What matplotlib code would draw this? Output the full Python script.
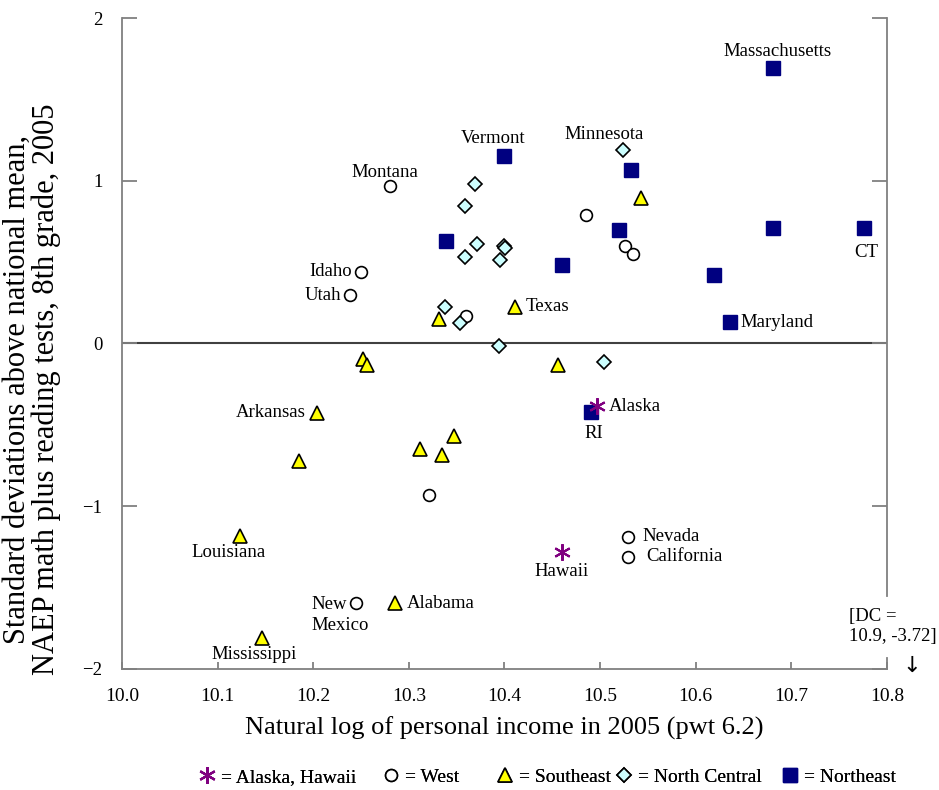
import matplotlib
matplotlib.use("Agg")
import matplotlib.pyplot as plt
from matplotlib.lines import Line2D

plt.rcParams['font.family'] = ['Liberation Serif', 'DejaVu Serif']
plt.rcParams['axes.unicode_minus'] = True

# Northeast
ne_x = [10.681, 10.399, 10.532, 10.339, 10.520, 10.681, 10.460, 10.619, 10.636, 10.776, 10.490]
ne_y = [1.69, 1.15, 1.063, 0.627, 0.70, 0.707, 0.485, 0.418, 0.129, 0.707, -0.424]
# West
we_x = [10.280, 10.250, 10.238, 10.485, 10.526, 10.534, 10.360, 10.321, 10.245, 10.529, 10.529]
we_y = [0.965, 0.442, 0.295, 0.787, 0.597, 0.547, 0.172, -0.928, -1.597, -1.186, -1.309]
# Southeast
se_x = [10.543, 10.411, 10.332, 10.456, 10.2525, 10.256, 10.204, 10.185, 10.123,
        10.146, 10.286, 10.312, 10.335, 10.347]
se_y = [0.893, 0.227, 0.152, -0.135, -0.098, -0.131, -0.426, -0.725, -1.18,
        -1.808, -1.596, -0.651, -0.688, -0.571]
# North Central
nc_x = [10.524, 10.369, 10.359, 10.371, 10.359, 10.399, 10.401, 10.395, 10.338, 10.354, 10.394, 10.504]
nc_y = [1.192, 0.981, 0.842, 0.613, 0.53, 0.598, 0.585, 0.516, 0.223, 0.125, -0.016, -0.115]
# Alaska, Hawaii
ak_x = [10.497, 10.460]
ak_y = [-0.387, -1.282]

# state labels: text, x, y, ha, va
labels = [
    ("Massachusetts", 10.686, 1.74, "center", "bottom"),
    ("Vermont", 10.388, 1.21, "center", "bottom"),
    ("Minnesota", 10.504, 1.23, "center", "bottom"),
    ("Montana", 10.275, 1.00, "center", "bottom"),
    ("Idaho", 10.241, 0.442, "right", "center"),
    ("Utah", 10.229, 0.295, "right", "center"),
    ("Texas", 10.422, 0.227, "left", "center"),
    ("Maryland", 10.647, 0.129, "left", "center"),
    ("CT", 10.778, 0.61, "center", "top"),
    ("Arkansas", 10.192, -0.426, "right", "center"),
    ("Alaska", 10.509, -0.387, "left", "center"),
    ("RI", 10.493, -0.50, "center", "top"),
    ("Nevada", 10.544, -1.186, "left", "center"),
    ("California", 10.548, -1.309, "left", "center"),
    ("Hawaii", 10.460, -1.35, "center", "top"),
    ("Louisiana", 10.111, -1.23, "center", "top"),
    ("Mississippi", 10.138, -1.86, "center", "top"),
    ("Alabama", 10.298, -1.596, "left", "center"),
    ("New\nMexico", 10.198, -1.67, "left", "center"),
]

fig = plt.figure(figsize=(9.39, 7.9), dpi=100)
ax = fig.add_axes([0.1299, 0.1532, 0.8147, 0.824])

gray = "#808080"
ax.axhline(0, color="#404040", lw=1.5, zorder=1)

ax.plot(we_x, we_y, "o", ms=8.5, mfc="white", mec="black", mew=1.2, ls="none", zorder=3)
ax.plot(nc_x, nc_y, "D", ms=7.5, mfc="#ccffff", mec="black", mew=1.2, ls="none", zorder=3)
ax.plot(se_x, se_y, "^", ms=10, mfc="#ffff00", mec="black", mew=1.2, ls="none", zorder=3)
ax.plot(ne_x, ne_y, "s", ms=10.5, mfc="#000080", mec="#000080", ls="none", zorder=4)
ax.plot(ak_x, ak_y, marker=(6, 2, 0), ms=12, mec="#800080", mew=1.5, ls="none", zorder=5)

for txt, x, y, ha, va in labels:
    ax.text(x, y, txt, ha=ha, va=va, fontsize=13.5, linespacing=1.3)

ax.set_xlim(10.0, 10.8)
ax.set_ylim(-2, 2)
ax.set_xticks([10.0, 10.1, 10.2, 10.3, 10.4, 10.5, 10.6, 10.7, 10.8])
ax.set_xticklabels(["10.0", "10.1", "10.2", "10.3", "10.4", "10.5", "10.6", "10.7", "10.8"])
ax.set_yticks([-2, -1, 0, 1, 2])

ax.spines["top"].set_visible(False)
for s in ["left", "right", "bottom"]:
    ax.spines[s].set_color(gray)
    ax.spines[s].set_linewidth(1.3)
ax.spines["right"].set_bounds(-1.55, 2)
ax.plot([10.8, 10.8], [-2, -1.93], color=gray, lw=1.3, clip_on=False)

ax.tick_params(axis="y", direction="in", length=11, width=1.3, color=gray,
               right=True, labelsize=13.5, pad=14)
ax.tick_params(axis="x", direction="in", length=5, width=1.3, color=gray,
               labelsize=14, pad=14)

ax.set_xlabel("Natural log of personal income in 2005 (pwt 6.2)", fontsize=19, labelpad=8)
ax.set_ylabel("Standard deviations above national mean,\nNAEP math plus reading tests, 8th grade, 2005",
              fontsize=22, linespacing=0.98)
ax.yaxis.set_label_coords(-0.08, 0.43)

ax.text(10.760, -1.74, "[DC =\n10.9, -3.72]", ha="left", va="center", fontsize=13.5, linespacing=1.2)
ax.text(10.826, -1.98, "\u2193", ha="center", va="center", fontsize=16, fontfamily="DejaVu Sans")

# legend row at the bottom
legend_items = [
    (Line2D([], [], marker=(6, 2, 0), ms=12, mec="#800080", mew=1.5, ls="none"), "= Alaska, Hawaii", 198),
    (Line2D([], [], marker="o", ms=8.5, mfc="white", mec="black", mew=1.2, ls="none"), "= West", 382),
    (Line2D([], [], marker="^", ms=10, mfc="#ffff00", mec="black", mew=1.2, ls="none"), "= Southeast", 496),
    (Line2D([], [], marker="D", ms=7.5, mfc="#ccffff", mec="black", mew=1.2, ls="none"), "= North Central", 615),
    (Line2D([], [], marker="s", ms=10.5, mfc="#000080", mec="#000080", ls="none"), "= Northeast", 781),
]
for h, lab, px in legend_items:
    leg = fig.legend(handles=[h], labels=[lab], loc="center left",
                     bbox_to_anchor=(px / 939, 1 - 777 / 790), frameon=False,
                     handlelength=0.9, handletextpad=0.3, borderpad=0, borderaxespad=0,
                     fontsize=14)
    fig.add_artist(leg)

fig.savefig("out.png", dpi=100)
